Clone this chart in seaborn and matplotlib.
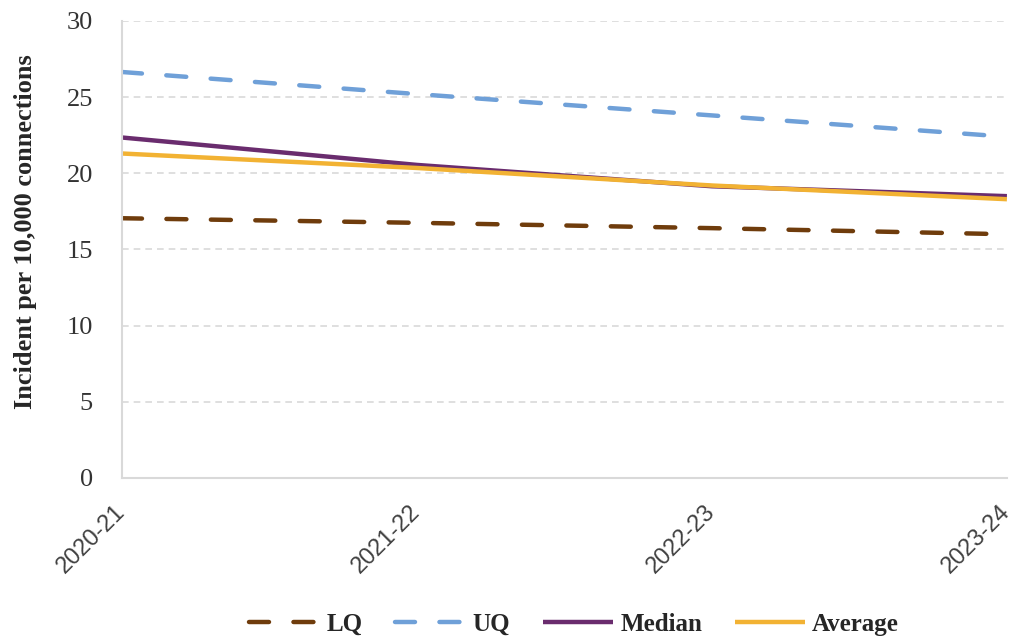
import matplotlib
matplotlib.use("Agg")
import matplotlib.pyplot as plt
import seaborn as sns
import pandas as pd

years = ["2020-21", "2021-22", "2022-23", "2023-24"]
lq = [17.05, 16.75, 16.4, 16.0]
uq = [26.65, 25.2, 23.8, 22.4]
median = [22.35, 20.55, 19.15, 18.5]
average = [21.3, 20.35, 19.2, 18.3]

series_names = ["LQ", "UQ", "Median", "Average"]
series_vals = [lq, uq, median, average]
colors = ["#6F3C0C", "#6FA0D8", "#6A2C6E", "#F2B233"]
dashed = [True, True, False, False]

sns.set_style("white")
fig = plt.figure(figsize=(10.14, 6.41), dpi=100)
ax = fig.add_axes([0.1203, 0.2543, 0.8727, 0.7130])

for name, vals, c, d in zip(series_names, series_vals, colors, dashed):
    df = pd.DataFrame({"x": range(len(years)), "y": vals})
    ls = (0, (4.5, 5.5)) if d else "-"
    sns.lineplot(data=df, x="x", y="y", ax=ax, color=c, lw=3.2, linestyle=ls,
                 label=name, dash_capstyle="round", solid_capstyle="butt")

ax.set_xlim(0, len(years) - 1)
ax.set_ylim(0, 30)
ax.set_yticks(range(0, 31, 5))
ax.set_xticks(range(len(years)))
ax.set_xticklabels(years, rotation=45, ha="right", va="center", rotation_mode="anchor",
                   family="Liberation Sans", fontsize=17, color="#404040")
for lab in ax.get_yticklabels():
    lab.set_family("Liberation Serif")
    lab.set_fontsize(19)
    lab.set_color("#333333")
ax.set_xlabel("")
ax.set_ylabel("Incident per 10,000 connections", family="Liberation Serif",
              fontweight="bold", fontsize=19)
ax.yaxis.set_label_coords(-0.096, 0.54)
ax.yaxis.grid(True, color="#D9D9D9", linestyle=(0, (4, 3)), lw=1.2)
ax.xaxis.grid(False)
for s in ["top", "right"]:
    ax.spines[s].set_visible(False)
for s in ["left", "bottom"]:
    ax.spines[s].set_color("#D9D9D9")
    ax.spines[s].set_linewidth(1.5)
ax.tick_params(axis="x", direction="in", length=7, color="#D9D9D9", width=1.2, pad=22)
ax.tick_params(axis="y", length=0, pad=21)

ax.get_legend().remove()
handles, labels = ax.get_legend_handles_labels()
fig.legend(handles, labels, loc="center", bbox_to_anchor=(0.566, 0.026), ncol=4,
           frameon=False, prop={"family": "Liberation Serif", "weight": "bold", "size": 18},
           handlelength=2.8, columnspacing=1.3, handletextpad=0.3)

fig.savefig("out.png", dpi=100)
